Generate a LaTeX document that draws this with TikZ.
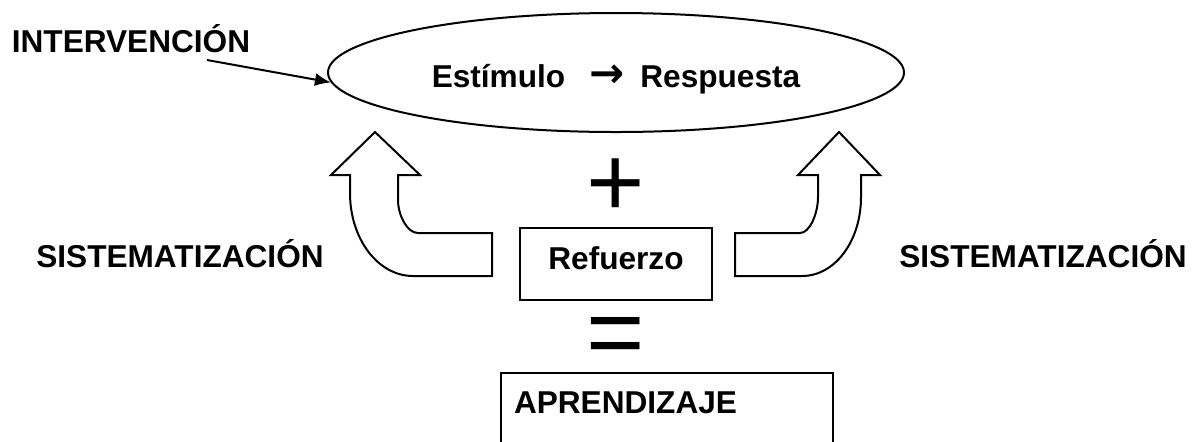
\documentclass[tikz,border=0pt]{standalone}
\usepackage{fontspec}
\setmainfont{Liberation Sans}
\newfontfamily\arrowfont{DejaVu Sans}
\usetikzlibrary{shapes.geometric,arrows.meta}

\begin{document}
\begin{tikzpicture}[x=0.5pt,y=-0.5pt,line width=1pt,
	lbl/.style={font=\fontsize{15.8}{19}\selectfont\bfseries,inner sep=0pt},
	sign/.style={font=\fontsize{50}{60}\selectfont,inner sep=0pt,anchor=base},
	caja/.style={draw,lbl}]
	\useasboundingbox (0,0) rectangle (1197,441);
	\clip (0,0) rectangle (1197,441);

	\node[ellipse,draw,lbl,minimum width=288pt,minimum height=59.5pt,text height=17.8pt,text depth=3.3pt] (er) at (616,72.5) {Estímulo\hspace{12pt}{\arrowfont\bfseries\fontsize{21}{21}\selectfont →}\hspace{8pt}Respuesta};

	\node[lbl,anchor=base] (inter) at (131,52) {INTERVENCIÓN};
	\coordinate (ia) at (207,60);
	\draw[-{Latex[length=8pt,width=6.5pt]}] (ia) -- (er.182);

	\node[sign] (mas) at (616,216) {+};
	\node[caja,minimum width=96pt,minimum height=36pt,text depth=6pt] (ref) at (616,264) {Refuerzo};
	\node[sign] (igual) at (616,366) {=};
	\node[caja,anchor=north west,minimum width=166pt,minimum height=80pt,text width=153pt,align=left,inner xsep=6.5pt,text depth=50pt] (apr) at (500,372) {APRENDIZAJE};

	\node[lbl,anchor=base] (sisl) at (180,267) {SISTEMATIZACIÓN};
	\node[lbl,anchor=base] (sisr) at (1043,267) {SISTEMATIZACIÓN};

	% flechas curvas
	\draw (492,233) -- (418,233) .. controls (407,233) and (398,215) .. (398,200) -- (398,175) -- (420,175) -- (375,132) -- (331,175) -- (350,175) -- (350,193) .. controls (350,239) and (378,276) .. (413,276) -- (492,276) -- cycle;
	\draw (735,233) -- (800,233) .. controls (810,233) and (818,213) .. (818,197) -- (818,175) -- (798,175) -- (839,132) -- (880,175) -- (861,175) -- (861,197) .. controls (861,241) and (835,276) .. (802,276) -- (735,276) -- cycle;
\end{tikzpicture}
\end{document}
